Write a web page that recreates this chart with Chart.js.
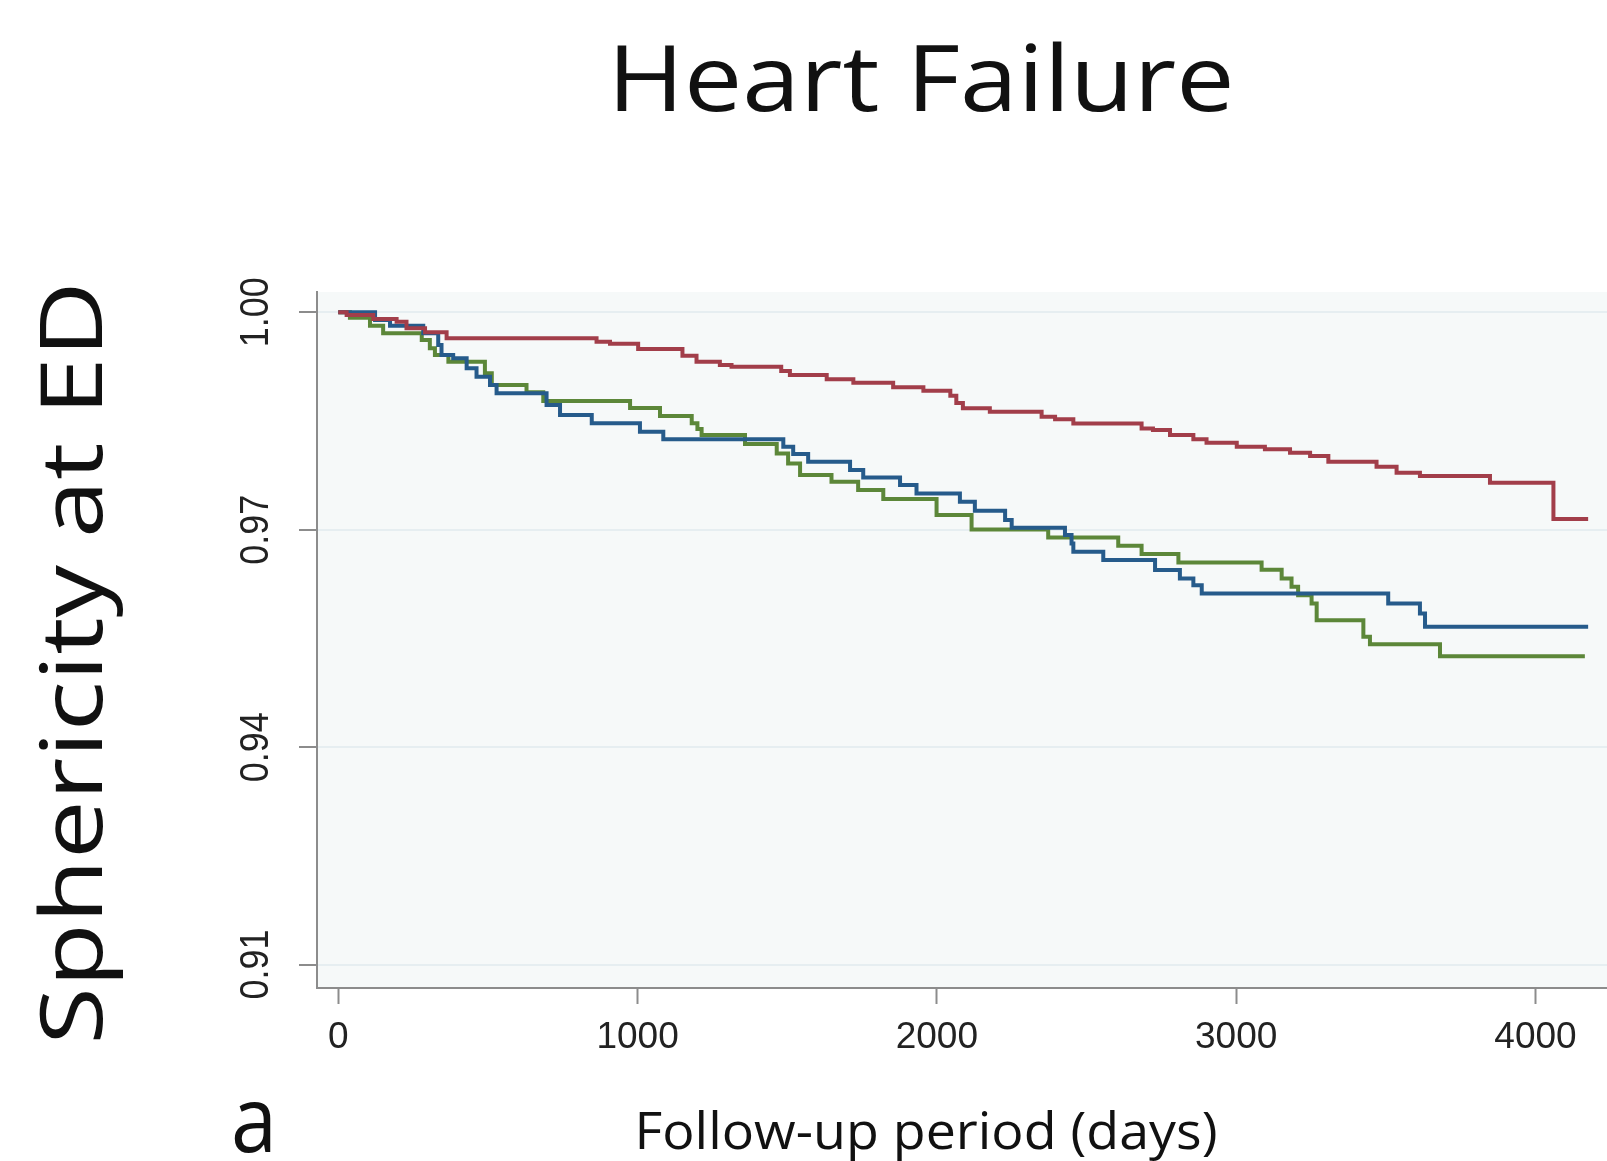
<!DOCTYPE html>
<html>
<head>
<meta charset="utf-8">
<title>Heart Failure</title>
<script src="https://cdn.jsdelivr.net/npm/chart.js@4.4.1/dist/chart.umd.min.js"></script>
<style>
    html, body { margin: 0; padding: 0; background: #fff; overflow: hidden; }
    canvas { display: block; }
</style>
</head>
<body>
<canvas id="kmChart" width="1607" height="1161"></canvas>
<script>
// Kaplan-Meier steps (days, survival)
const redDays = [0, 28, 117, 195, 228, 290, 362, 863, 908, 1002, 1150, 1197, 1275, 1314, 1480, 1509, 1632, 1721, 1854, 1955, 2045, 2065, 2087, 2177, 2350, 2395, 2456, 2684, 2722, 2779, 2857, 2901, 3002, 3096, 3180, 3247, 3308, 3469, 3536, 3614, 3848, 4060, 4176];
const redSurv = [1.0, 0.99963, 0.99908, 0.9987, 0.99779, 0.99724, 0.99641, 0.99594, 0.99565, 0.99493, 0.9940, 0.99318, 0.99273, 0.99249, 0.9919, 0.99134, 0.99075, 0.99028, 0.98965, 0.98918, 0.9885, 0.9875, 0.98675, 0.98628, 0.98559, 0.98523, 0.98467, 0.98398, 0.98375, 0.98306, 0.98247, 0.982, 0.98145, 0.9811, 0.98062, 0.98016, 0.97938, 0.97869, 0.97786, 0.9774, 0.97648, 0.97147, 0.97147];

const blueDays = [0, 123, 173, 284, 334, 345, 384, 429, 462, 507, 529, 696, 741, 847, 1008, 1086, 1487, 1520, 1570, 1710, 1754, 1877, 1932, 2077, 2127, 2228, 2250, 2428, 2450, 2456, 2556, 2729, 2812, 2857, 2885, 3508, 3614, 3631, 4176];
const blueSurv = [1.0, 0.99894, 0.99815, 0.9971, 0.99549, 0.9941, 0.99365, 0.99227, 0.99111, 0.98996, 0.98882, 0.9872, 0.98582, 0.98468, 0.98352, 0.98247, 0.98145, 0.98044, 0.97938, 0.97823, 0.97722, 0.97616, 0.975, 0.97386, 0.97261, 0.97133, 0.97027, 0.96926, 0.96811, 0.96695, 0.96581, 0.96443, 0.96328, 0.96235, 0.96121, 0.95983, 0.95845, 0.9566, 0.9566];

const greenDays = [0, 39, 106, 150, 279, 306, 323, 368, 490, 513, 629, 685, 975, 1075, 1181, 1200, 1214, 1359, 1465, 1503, 1543, 1648, 1737, 1821, 1999, 2116, 2372, 2606, 2684, 2807, 3085, 3152, 3185, 3207, 3252, 3269, 3425, 3447, 3681, 4165];
const greenSurv = [1.0, 0.99926, 0.99815, 0.9971, 0.99618, 0.99503, 0.9941, 0.99318, 0.99158, 0.98996, 0.98896, 0.98776, 0.9868, 0.98568, 0.98468, 0.9839, 0.98306, 0.98182, 0.98053, 0.97915, 0.97754, 0.97662, 0.97547, 0.97423, 0.97202, 0.97004, 0.96894, 0.96778, 0.96664, 0.96549, 0.96448, 0.96328, 0.96212, 0.96097, 0.95983, 0.95752, 0.95522, 0.95421, 0.95255, 0.95255];

const xTicks = [0, 1000, 2000, 3000, 4000];
const xTickLabels = ['0', '1000', '2000', '3000', '4000'];
const yTicks = [0.91, 0.94, 0.97, 1.00];
const yTickLabels = ['0.91', '0.94', '0.97', '1.00'];

const axisGrey = '#8c8c8c';

function toPoints(days, surv) {
    return days.map((d, i) => ({ x: d, y: surv[i] }));
}

// draw text squeezed/stretched to a given width
function fitText(ctx, text, x, y, width, size, rot) {
    ctx.save();
    ctx.font = size + 'px "Open Sans"';
    const w = ctx.measureText(text).width;
    ctx.translate(x, y);
    if (rot) ctx.rotate(rot);
    ctx.scale(width / w, 1);
    ctx.fillStyle = '#111';
    ctx.textAlign = 'center';
    ctx.textBaseline = 'alphabetic';
    ctx.fillText(text, 0, 0);
    ctx.restore();
}

const stataLook = {
    id: 'stataLook',
    beforeDraw(chart) {
        const { ctx, chartArea: a } = chart;
        ctx.save();
        ctx.fillStyle = '#f6f9f9';
        ctx.fillRect(a.left, a.top, a.right - a.left, a.bottom - a.top);
        ctx.restore();
    },
    afterDraw(chart) {
        const ctx = chart.ctx;
        const yScale = chart.scales.y;

        ctx.save();
        ctx.fillStyle = '#222';
        ctx.font = '36px "Liberation Sans"';
        ctx.textAlign = 'center';
        ctx.textBaseline = 'middle';
        yTicks.forEach((v, i) => {
            ctx.save();
            ctx.translate(257, yScale.getPixelForValue(v));
            ctx.rotate(-Math.PI / 2);
            ctx.scale(1, 1.12);
            ctx.fillText(yTickLabels[i], 0, 0);
            ctx.restore();
        });
        ctx.restore();

        fitText(ctx, 'Heart Failure', 921, 111, 627, 91);
        fitText(ctx, 'Sphericity at ED', 102, 663, 763, 86, -Math.PI / 2);
        fitText(ctx, 'Follow-up period (days)', 926, 1149, 583, 52);
        fitText(ctx, 'a', 254, 1152, 46, 92);
    }
};

new Chart(document.getElementById('kmChart'), {
    type: 'line',
    data: {
        datasets: [{
            label: 'red',
            data: toPoints(redDays, redSurv),
            borderColor: '#a23e4a',
            borderWidth: 4,
            stepped: 'before',
            pointRadius: 0,
            fill: false
        }, {
            label: 'blue',
            data: toPoints(blueDays, blueSurv),
            borderColor: '#265b8b',
            borderWidth: 4,
            stepped: 'before',
            pointRadius: 0,
            fill: false
        }, {
            label: 'green',
            data: toPoints(greenDays, greenSurv),
            borderColor: '#5c8739',
            borderWidth: 4,
            stepped: 'before',
            pointRadius: 0,
            fill: false
        }]
    },
    options: {
        responsive: false,
        animation: false,
        devicePixelRatio: 1,
        layout: {
            padding: { top: 292, left: 0, right: 0, bottom: 0 }
        },
        plugins: {
            legend: { display: false },
            tooltip: { enabled: false }
        },
        scales: {
            x: {
                type: 'linear',
                min: -71,
                max: 4239,
                afterBuildTicks: (scale) => {
                    scale.ticks = xTicks.map(v => ({ value: v }));
                },
                afterFit: (scale) => {
                    scale.height = 173;
                },
                ticks: {
                    color: '#222',
                    padding: 12,
                    maxRotation: 0,
                    font: { family: '"Liberation Sans"', size: 37 },
                    callback: (value) => xTickLabels[xTicks.indexOf(value)]
                },
                grid: {
                    drawOnChartArea: false,
                    drawTicks: true,
                    tickLength: 16,
                    tickColor: axisGrey,
                    tickWidth: 2
                },
                border: { display: true, color: axisGrey, width: 2 }
            },
            y: {
                type: 'linear',
                min: 0.90677,
                max: 1.0028,
                afterBuildTicks: (scale) => {
                    scale.ticks = yTicks.map(v => ({ value: v }));
                },
                afterFit: (scale) => {
                    scale.width = 317;
                },
                ticks: { display: false },
                grid: {
                    color: '#e6eef1',
                    lineWidth: 2,
                    drawTicks: true,
                    tickLength: 18,
                    tickColor: axisGrey,
                    tickWidth: 2
                },
                border: { display: true, color: axisGrey, width: 2 }
            }
        }
    },
    plugins: [stataLook]
});
</script>
</body>
</html>
